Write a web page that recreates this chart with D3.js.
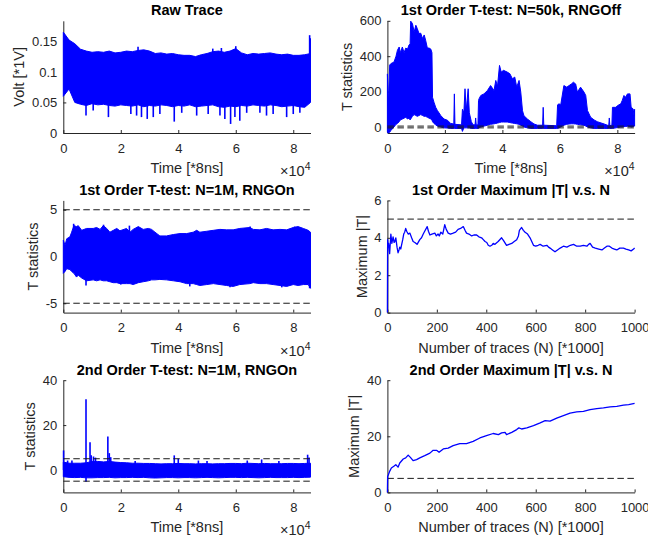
<!DOCTYPE html>
<html>
<head>
<meta charset="utf-8">
<script src="https://cdn.jsdelivr.net/npm/d3@7"></script>
<style>
  body { margin: 0; background: #fff; }
  text { font-family: "Liberation Sans", Arial, sans-serif; fill: #262626; }
</style>
</head>
<body>
<div id="main"></div>
<script>
/*********************************************************
 * Data
 *********************************************************/

// common sample grid for the time traces, in units of 1e4 samples
const gridX = [0, 0.2, 0.4, 0.6, 0.8, 1.0, 1.2, 1.4, 1.6, 1.8,
  2.0, 2.2, 2.4, 2.6, 2.8, 3.0, 3.2, 3.4, 3.6, 3.8,
  4.0, 4.2, 4.4, 4.6, 4.8, 5.0, 5.2, 5.4, 5.6, 5.8,
  6.0, 6.2, 6.4, 6.6, 6.8, 7.0, 7.2, 7.4, 7.6, 7.8,
  8.0, 8.2, 8.4, 8.6];

// Raw trace envelope [V]
const rawHi = [0.165, 0.152, 0.146, 0.137, 0.134, 0.132, 0.133, 0.132, 0.134, 0.131,
  0.132, 0.134, 0.133, 0.135, 0.136, 0.134, 0.130, 0.131, 0.129, 0.130,
  0.128, 0.127, 0.127, 0.125, 0.128, 0.130, 0.133, 0.134, 0.132, 0.134,
  0.138, 0.131, 0.128, 0.130, 0.129, 0.130, 0.131, 0.129, 0.128, 0.129,
  0.127, 0.127, 0.128, 0.130];
const rawLo = [0.060, 0.072, 0.050, 0.047, 0.045, 0.048, 0.046, 0.047, 0.045, 0.044,
  0.046, 0.045, 0.044, 0.046, 0.043, 0.045, 0.044, 0.046, 0.045, 0.043,
  0.045, 0.044, 0.046, 0.043, 0.044, 0.045, 0.046, 0.043, 0.042, 0.044,
  0.043, 0.045, 0.044, 0.046, 0.045, 0.044, 0.046, 0.045, 0.043, 0.044,
  0.045, 0.043, 0.042, 0.050];
const rawSpikeX = [0.79, 1.04, 1.57, 2.35, 2.55, 2.72, 2.92, 3.13, 3.36, 3.86,
  4.12, 4.64, 5.04, 5.45, 5.62, 5.82, 5.97, 6.14, 6.38, 6.84,
  7.07, 7.30, 7.77, 8.00, 8.23, 2.60, 5.20, 5.50, 6.00, 8.57, 8.59];
const rawSpikeV = [0.0285, 0.037, 0.026, 0.031, 0.0285, 0.026, 0.023, 0.026, 0.031, 0.0186,
  0.033, 0.0285, 0.031, 0.0285, 0.023, 0.0148, 0.026, 0.020, 0.033, 0.033,
  0.0285, 0.031, 0.026, 0.031, 0.033, 0.141, 0.138, 0.139, 0.142, 0.160, 0.155];

// 1st order t-test, N=50k, RNG off
const rngOffX = [0.00, 0.03, 0.08, 0.12, 0.23, 0.30, 0.35, 0.41, 0.45, 0.52,
  0.58, 0.64, 0.70, 0.75, 0.79, 0.81, 0.87, 0.93, 0.99, 1.04,
  1.10, 1.16, 1.22, 1.28, 1.33, 1.39, 1.45, 1.51, 1.55, 1.57,
  1.62, 1.68, 1.74, 1.86, 1.97, 2.09, 2.20, 2.31, 2.33, 2.35,
  2.58, 2.61, 2.66, 2.70, 2.74, 2.81, 2.85, 2.92, 2.98, 3.05,
  3.07, 3.09, 3.15, 3.17, 3.19, 3.25, 3.36, 3.48, 3.59, 3.71,
  3.77, 3.83, 3.90, 3.96, 4.04, 4.17, 4.26, 4.35, 4.43, 4.50,
  4.58, 4.64, 4.70, 4.75, 4.87, 4.99, 5.10, 5.22, 5.40, 5.42,
  5.44, 5.89, 5.92, 5.97, 6.03, 6.14, 6.24, 6.32, 6.40, 6.47,
  6.55, 6.61, 6.72, 6.84, 6.90, 6.96, 7.07, 7.19, 7.30, 7.54,
  7.70, 7.72, 7.74, 7.81, 7.83, 7.95, 8.00, 8.12, 8.17, 8.23,
  8.29, 8.35, 8.44, 8.48, 8.55, 8.58, 8.60];
const rngOffHi = [300, 120, 350, 358, 367, 400, 434, 452, 420, 452,
  420, 446, 440, 463, 470, 598, 585, 537, 575, 556,
  528, 530, 500, 520, 490, 446, 446, 440, 420, 168,
  140, 111, 93, 64, 45, 38, 20, 17, 187, 15,
  12, 100, 80, 216, 90, 216, 80, 30, 12, 12,
  51, 12, 12, 150, 160, 178, 187, 206, 234, 206,
  263, 230, 348, 310, 320, 310, 301, 272, 282, 225,
  263, 197, 92, 64, 45, 30, 17, 10, 10, 111,
  10, 7, 125, 131, 125, 234, 225, 234, 243, 253,
  243, 197, 225, 197, 178, 93, 55, 40, 30, 17,
  7, 51, 7, 10, 111, 111, 120, 131, 150, 178,
  168, 187, 187, 111, 102, 63, 100];
const rngOffLo = [-30, -34, -30, -20, 0, 15, 20, 30, 40, 45,
  50, 55, 45, 50, 40, 45, 60, 70, 65, 60,
  65, 70, 65, 60, 60, 55, 50, 45, 40, 30,
  20, 12, 5, 0, -5, -6, -8, -8, -8, -8,
  -8, -25, -5, -5, -5, -5, -5, -8, -8, -8,
  -8, -8, -8, -8, -5, 0, 5, 10, 15, 18,
  20, 22, 25, 28, 28, 28, 25, 22, 20, 18,
  15, 10, 5, 0, -5, -8, -8, -8, -8, -8,
  -8, -8, -8, -5, 0, 10, 15, 17, 18, 18,
  17, 15, 12, 10, 5, 0, -5, -8, -8, -8,
  -8, -8, -8, -8, -8, -5, -3, 0, 0, 2,
  3, 4, 3, 0, 2, 5, 5];

// 1st order t-test, N=1M, RNG on
const first1MX = [0.00, 0.06, 0.12, 0.23, 0.29, 0.37, 0.46, 0.52, 0.64, 0.81,
  1.04, 1.16, 1.28, 1.39, 1.51, 1.62, 1.74, 1.86, 1.97, 2.20,
  2.32, 2.43, 2.61, 2.78, 2.96, 3.07, 3.19, 3.36, 3.59, 3.83,
  4.06, 4.29, 4.52, 4.64, 4.75, 4.99, 5.22, 5.45, 5.68, 5.91,
  6.14, 6.49, 6.61, 6.84, 7.07, 7.30, 7.54, 7.77, 8.00, 8.17,
  8.35, 8.52, 8.60];
const first1MHi = [1.75, 1.2, 1.9, 2.1, 2.6, 3.3, 3.2, 3.3, 2.8, 3.0,
  3.0, 3.1, 2.9, 3.3, 3.0, 2.6, 2.8, 3.0, 2.75, 3.0,
  2.6, 2.9, 3.2, 2.9, 3.0, 2.9, 2.6, 2.2, 2.2, 2.35,
  2.45, 2.45, 2.6, 2.8, 2.6, 2.7, 2.8, 2.9, 2.85, 2.85,
  3.0, 3.1, 2.9, 2.85, 3.0, 2.85, 2.9, 2.85, 3.1, 3.2,
  3.0, 2.8, 2.6];
const first1MLo = [-1.8, -1.6, -1.3, -1.4, -1.6, -1.8, -2.2, -2.0, -2.3, -2.6,
  -2.5, -2.6, -2.5, -2.6, -2.6, -2.7, -2.8, -2.8, -2.9, -2.9,
  -2.9, -3.0, -2.8, -2.7, -2.6, -2.5, -2.5, -2.45, -2.5, -2.6,
  -2.7, -2.9, -2.9, -3.0, -3.1, -3.0, -2.9, -3.0, -3.1, -3.2,
  -3.0, -2.9, -2.8, -2.9, -2.9, -3.0, -3.1, -3.2, -3.0, -3.1,
  -3.0, -3.0, -3.4];
const first1MSpikeX = [0.79, 0.36, 1.40, 2.30, 2.00, 4.40, 5.80, 7.60, 8.57, 6.50, 8.05];
const first1MSpikeV = [-3.1, 3.5, 3.4, 3.3, -3.0, -3.2, -3.3, -3.3, -3.4, 3.2, 3.2];

// 2nd order t-test, N=1M, RNG on
const second1MHi = [3.5, 3.0, 3.0, 3.0, 3.2, 3.8, 3.8, 3.6, 3.8, 3.5,
  3.3, 3.2, 3.0, 3.0, 2.9, 2.9, 2.8, 2.7, 2.8, 2.8,
  2.9, 2.8, 2.8, 2.7, 2.8, 2.8, 2.7, 2.8, 2.8, 2.9,
  2.9, 2.8, 3.0, 2.9, 2.8, 2.9, 2.8, 2.8, 2.8, 2.9,
  2.9, 2.8, 2.9, 3.0];
const second1MLo = [-3.0, -3.3, -3.4, -3.3, -3.5, -3.5, -3.4, -3.4, -3.3, -3.5,
  -3.4, -3.4, -3.3, -3.4, -3.3, -3.5, -3.6, -3.5, -3.4, -3.4,
  -3.5, -3.4, -3.4, -3.5, -3.4, -3.3, -3.4, -3.5, -3.4, -3.3,
  -3.3, -3.4, -3.3, -3.4, -3.5, -3.4, -3.3, -3.4, -3.4, -3.4,
  -3.3, -3.4, -3.3, -3.2];
const second1MSpikeX = [0.01, 0.79, 0.79, 0.93, 0.97, 1.05, 1.12, 1.55, 1.60, 1.65,
  3.86, 4.00, 6.90, 8.50, 8.55, 0.15, 0.30, 2.50, 4.70, 5.00, 6.40, 7.50];
const second1MSpikeV = [8.7, 31.5, -5.3, 12.4, 6.5, 6.0, 5.5, 14.9, 7.5, 5.7,
  6.5, 5.0, 4.7, 6.8, 5.5, 4.2, 4.2, 4.0, 4.2, 4.0, 4.2, 4.0];

// Maximum |T| vs number of traces (thousands)
const firstMaxN = [0, 1, 3, 5, 9, 14, 18, 23, 27, 30,
  34, 39, 43, 47, 50, 54, 57, 62, 66, 70,
  74, 78, 84, 91, 98, 104, 111, 120, 131, 138,
  145, 153, 161, 166, 172, 180, 192, 198, 205, 210,
  216, 224, 232, 238, 246, 255, 266, 276, 286, 296,
  307, 314, 320, 330, 341, 350, 361, 370, 381, 388,
  395, 402, 408, 415, 422, 428, 435, 448, 462, 470,
  482, 492, 503, 513, 523, 530, 534, 540, 543, 550,
  557, 567, 577, 584, 591, 600, 610, 618, 630, 645,
  652, 658, 668, 678, 688, 699, 712, 726, 740, 753,
  766, 780, 793, 807, 814, 820, 830, 841, 855, 868,
  878, 888, 898, 908, 918, 928, 940, 955, 965, 976,
  986, 996, 1000];
const firstMaxT = [0, 3.9, 3.5, 3.7, 3.15, 4.2, 3.7, 4.05, 3.75, 3.8,
  4.0, 3.5, 3.2, 3.35, 3.5, 3.4, 3.6, 3.9, 4.2, 4.3,
  4.5, 4.35, 4.2, 4.25, 4.0, 3.8, 3.75, 3.65, 3.9, 4.0,
  4.2, 4.4, 4.6, 4.35, 4.15, 4.2, 4.25, 4.1, 4.2, 4.1,
  4.3, 4.2, 4.7, 4.45, 4.25, 4.2, 4.25, 4.3, 4.45, 4.5,
  4.6, 4.4, 4.25, 4.2, 4.1, 4.15, 4.15, 4.05, 4.0, 3.9,
  3.8, 3.75, 3.6, 3.55, 3.6, 3.7, 3.65, 3.8, 4.0, 3.85,
  3.6, 3.65, 3.7, 3.8, 3.9, 4.1, 4.4, 4.5, 4.55, 4.4,
  4.3, 4.2, 4.0, 3.8, 3.6, 3.55, 3.6, 3.65, 3.55, 3.6,
  3.5, 3.45, 3.35, 3.25, 3.35, 3.45, 3.55, 3.5, 3.6, 3.65,
  3.55, 3.55, 3.6, 3.55, 3.65, 3.7, 3.5, 3.45, 3.4, 3.35,
  3.45, 3.55, 3.55, 3.45, 3.4, 3.35, 3.45, 3.45, 3.4, 3.35,
  3.3, 3.4, 3.45];
const secondMaxN = [0, 1, 4, 9, 16, 26, 34, 43, 50, 64,
  74, 84, 93, 104, 118, 131, 151, 172, 185, 199,
  209, 226, 246, 266, 293, 320, 347, 374, 401, 428,
  449, 462, 476, 482, 503, 523, 532, 543, 564, 591,
  618, 638, 658, 685, 712, 739, 766, 793, 820, 847,
  874, 901, 928, 955, 976, 1000];
const secondMaxT = [0, 5.7, 6.3, 7.5, 8.7, 9.3, 9.9, 9.0, 10.5, 11.9,
  12.3, 13.3, 12.5, 11.3, 11.7, 12.3, 13.1, 14.0, 15.0, 15.0,
  14.3, 15.5, 15.8, 16.7, 17.4, 17.4, 18.2, 19.4, 20.2, 21.0,
  20.6, 21.2, 21.4, 20.6, 21.4, 22.4, 23.0, 22.6, 23.0, 23.8,
  24.8, 25.6, 25.4, 26.5, 27.4, 28.3, 28.7, 28.9, 29.5, 29.9,
  30.1, 30.5, 30.7, 31.1, 31.3, 31.7];

const threshold = 5;
const timeTicks = [0, 2, 4, 6, 8];
const traceTicks = [0, 200, 400, 600, 800, 1000];

/*********************************************************
 * Layout
 *********************************************************/

const svgWidth = 648;
const svgHeight = 541;
const colX = [63.3, 387.4];
const rowY = [20.8, 200.4, 380.2];
const plotW = 247.2;
const plotH = 112.2;
const blue = '#0000ff';
const axisColor = '#262626';

const svg = d3
  .select('#main')
  .append('svg')
  .attr('width', svgWidth)
  .attr('height', svgHeight);

function makePanel(opt) {
  const g = svg
    .append('g')
    .attr('transform', 'translate(' + [opt.left, opt.top] + ')');

  const x = d3.scaleLinear().domain(opt.xDomain).range([0, plotW]);
  const y = d3.scaleLinear().domain(opt.yDomain).range([plotH, 0]);

  // x axis, ticks pointing inward like matlab
  const xa = g
    .append('g')
    .attr('transform', 'translate(0,' + plotH + ')')
    .call(
      d3.axisBottom(x)
        .tickValues(opt.xTicks)
        .tickFormat(d => String(d))
        .tickSizeInner(-3)
        .tickSizeOuter(0)
        .tickPadding(10.5)
    );

  const ya = g.append('g').call(
    d3.axisLeft(y)
      .tickValues(opt.yTicks)
      .tickFormat(d => String(d))
      .tickSizeInner(-3)
      .tickSizeOuter(0)
      .tickPadding(6)
  );

  [xa, ya].forEach(a => {
    a.attr('font-family', null).attr('font-size', 13);
    a.select('.domain').attr('stroke', axisColor);
    a.selectAll('.tick line').attr('stroke', axisColor);
    a.selectAll('.tick text').attr('fill', axisColor);
  });

  // ylabel sits left of the widest tick label
  let maxW = 0;
  ya.selectAll('.tick text').each(function() {
    maxW = Math.max(maxW, this.getComputedTextLength());
  });
  g.append('text')
    .attr('transform', 'translate(' + [-(6 + maxW + 7.5), plotH / 2] + ') rotate(-90)')
    .attr('text-anchor', 'middle')
    .style('font-size', '14.5px')
    .text(opt.yLabel);

  g.append('text')
    .attr('x', plotW / 2)
    .attr('y', plotH + 40)
    .attr('text-anchor', 'middle')
    .style('font-size', '14.5px')
    .text(opt.xLabel);

  g.append('text')
    .attr('x', plotW / 2)
    .attr('y', -5.5)
    .attr('text-anchor', 'middle')
    .style('font-size', '14.5px')
    .style('font-weight', 'bold')
    .style('fill', '#000')
    .text(opt.title);

  if (opt.exponent) {
    const ex = g.append('text')
      .attr('x', plotW)
      .attr('y', plotH + 43)
      .attr('text-anchor', 'end')
      .style('font-size', '14.5px');
    ex.append('tspan').text('\u00d710');
    ex.append('tspan').attr('dy', -6).style('font-size', '10.5px').text(opt.exponent);
  }

  return { g, x, y };
}

function drawBand(p, xs, hi, lo) {
  const area = d3.area()
    .x(d => p.x(d))
    .y0((d, i) => p.y(lo[i]))
    .y1((d, i) => p.y(hi[i]));
  p.g.append('path')
    .attr('d', area(xs))
    .attr('fill', blue)
    .attr('stroke', blue)
    .attr('stroke-width', 1);
}

function drawSpikes(p, xs, vs, base) {
  p.g.append('g')
    .selectAll('line')
    .data(xs)
    .join('line')
    .attr('x1', d => p.x(d))
    .attr('x2', d => p.x(d))
    .attr('y1', p.y(base))
    .attr('y2', (d, i) => p.y(vs[i]))
    .attr('stroke', blue)
    .attr('stroke-width', 1.6);
}

function drawLine(p, xs, vs) {
  const line = d3.line()
    .x(d => p.x(d))
    .y((d, i) => p.y(vs[i]));
  p.g.append('path')
    .attr('d', line(xs))
    .attr('fill', 'none')
    .attr('stroke', blue)
    .attr('stroke-width', 1.3)
    .attr('stroke-linejoin', 'round');
}

function drawThreshold(p, levels) {
  p.g.append('g')
    .selectAll('line')
    .data(levels)
    .join('line')
    .attr('x1', 0)
    .attr('x2', plotW)
    .attr('y1', d => p.y(d))
    .attr('y2', d => p.y(d))
    .attr('stroke', '#1a1a1a')
    .attr('stroke-width', 1)
    .attr('stroke-dasharray', '6.5,3.5');
}

/*********************************************************
 * Panels
 *********************************************************/

// Raw trace
const p1 = makePanel({
  left: colX[0], top: rowY[0],
  xDomain: [0, 8.6], yDomain: [0, 0.1835],
  xTicks: timeTicks, yTicks: [0, 0.05, 0.1, 0.15],
  title: 'Raw Trace', xLabel: 'Time [*8ns]', yLabel: 'Volt [*1V]', exponent: '4'
});
drawBand(p1, gridX, rawHi, rawLo);
drawSpikes(p1, rawSpikeX, rawSpikeV, 0.09);

// 1st order, RNG off
const p2 = makePanel({
  left: colX[1], top: rowY[0],
  xDomain: [0, 8.6], yDomain: [-34, 600],
  xTicks: timeTicks, yTicks: [0, 200, 400, 600],
  title: '1st Order T-test: N=50k, RNGOff', xLabel: 'Time [*8ns]', yLabel: 'T statistics', exponent: '4'
});
drawBand(p2, rngOffX, rngOffHi, rngOffLo);
drawThreshold(p2, [threshold, -threshold]);

// 1st order, RNG on
const p3 = makePanel({
  left: colX[0], top: rowY[1],
  xDomain: [0, 8.6], yDomain: [-6, 6],
  xTicks: timeTicks, yTicks: [-5, 0, 5],
  title: '1st Order T-test: N=1M, RNGOn', xLabel: 'Time [*8ns]', yLabel: 'T statistics', exponent: '4'
});
drawBand(p3, first1MX, first1MHi, first1MLo);
drawSpikes(p3, first1MSpikeX, first1MSpikeV, 0);
drawThreshold(p3, [threshold, -threshold]);

// 1st order max |T|
const p4 = makePanel({
  left: colX[1], top: rowY[1],
  xDomain: [0, 1000], yDomain: [0, 6],
  xTicks: traceTicks, yTicks: [0, 2, 4, 6],
  title: '1st Order Maximum |T| v.s. N', xLabel: 'Number of traces (N) [*1000]', yLabel: 'Maximum |T|'
});
drawThreshold(p4, [threshold]);
drawLine(p4, firstMaxN, firstMaxT);

// 2nd order, RNG on
const p5 = makePanel({
  left: colX[0], top: rowY[2],
  xDomain: [0, 8.6], yDomain: [-10, 40],
  xTicks: timeTicks, yTicks: [0, 20, 40],
  title: '2nd Order T-test: N=1M, RNGOn', xLabel: 'Time [*8ns]', yLabel: 'T statistics', exponent: '4'
});
drawBand(p5, gridX, second1MHi, second1MLo);
drawSpikes(p5, second1MSpikeX, second1MSpikeV, 0);
drawThreshold(p5, [threshold, -threshold]);

// 2nd order max |T|
const p6 = makePanel({
  left: colX[1], top: rowY[2],
  xDomain: [0, 1000], yDomain: [0, 40],
  xTicks: traceTicks, yTicks: [0, 20, 40],
  title: '2nd Order Maximum |T| v.s. N', xLabel: 'Number of traces (N) [*1000]', yLabel: 'Maximum |T|'
});
drawThreshold(p6, [threshold]);
drawLine(p6, secondMaxN, secondMaxT);
</script>
</body>
</html>
